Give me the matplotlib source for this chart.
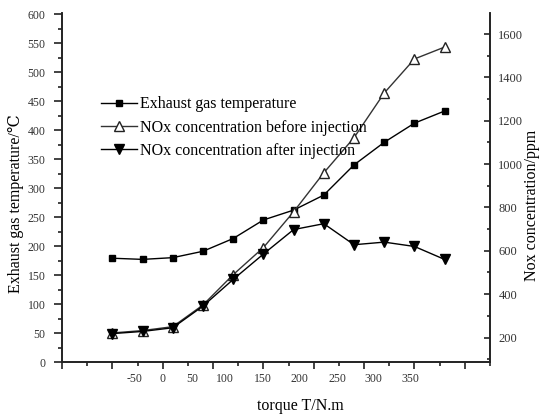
import numpy as np
import matplotlib.pyplot as plt
from matplotlib.ticker import MultipleLocator

plt.rcParams['font.family'] = ['Liberation Serif', 'DejaVu Serif']

# x positions of the measurement points (on the drawing scale of the original figure)
torque_pos = [-50, -20, 10, 40, 70, 100, 130, 160, 190, 220, 250, 280]
exhaust_temp = [179, 177, 180, 191, 213, 245, 262, 288, 340, 379, 412, 433]
nox_before = [221, 232, 250, 350, 490, 615, 780, 960, 1122, 1328, 1485, 1540]
nox_after = [218, 228, 245, 345, 468, 585, 698, 725, 628, 640, 620, 560]

# tick labels as printed under the axis, and where they sit
xtick_text = ['-50', '0', '50', '100', '150', '200', '250', '300', '350']
xtick_at = [-28, 0, 29, 62, 99, 136, 174, 209, 246]

fig = plt.figure(figsize=(5.4, 4.15), dpi=100)
ax = fig.add_axes([62/540, 1-362/415, 428/540, 349/415])
ax2 = ax.twinx()

l1, = ax.plot(torque_pos, exhaust_temp, color='black', lw=1, marker='s', ms=5,
              mfc='black', mec='black', label='Exhaust gas temperature')
l2, = ax2.plot(torque_pos, nox_before, color='#333333', lw=1, marker='^', ms=7,
               mfc='white', mec='#222222', label='NOx concentration before injection')
l3, = ax2.plot(torque_pos, nox_after, color='black', lw=1, marker='v', ms=7,
               mfc='black', mec='black', label='NOx concentration after injection')

ax.set_xlim(-100, 325)
ax.set_ylim(0, 602)
ax2.set_ylim(87, 1697)

ax.xaxis.set_major_locator(MultipleLocator(50))
ax.xaxis.set_minor_locator(MultipleLocator(25))
ax.set_xticklabels([])
ax.yaxis.set_major_locator(MultipleLocator(50))
ax.yaxis.set_minor_locator(MultipleLocator(25))
ax2.yaxis.set_minor_locator(MultipleLocator(100))
ax2.set_yticks(np.arange(200, 1601, 200))

ax.spines['top'].set_visible(False)
ax2.spines['top'].set_visible(False)
for a in (ax, ax2):
    for s in a.spines.values():
        s.set_linewidth(1.2)
        s.set_color('#222222')

ax.tick_params(axis='x', which='major', direction='out', length=5, width=1.2, color='#222222')
ax.tick_params(axis='x', which='minor', direction='out', length=3, width=1.2, color='#222222')
ax.tick_params(axis='y', which='major', direction='out', length=6, width=1.2,
               labelsize=8.5, labelcolor='#333333', color='#222222', pad=6)
ax.tick_params(axis='y', which='minor', direction='out', length=3, width=1.2, color='#222222')
ax2.tick_params(axis='y', which='major', direction='in', length=4, width=1.2,
                labelsize=9, labelcolor='#333333', color='#222222', pad=6)
ax2.tick_params(axis='y', which='minor', direction='in', length=2.5, width=1.2, color='#222222')

for t, xp in zip(xtick_text, xtick_at):
    ax.text(xp, -0.05, t, transform=ax.get_xaxis_transform(), ha='center', va='center',
            fontsize=8.5, color='#333333')

ax.set_ylabel('Exhaust gas temperature/\u2103', fontsize=11.5)
ax.yaxis.set_label_coords(-0.089, 0.455)
ax2.set_ylabel('Nox concentration/ppm', fontsize=11.5)
ax2.yaxis.set_label_coords(1.079, 0.45)
ax.set_xlabel('torque T/N.m', fontsize=11.5)
ax.xaxis.set_label_coords(0.556, -0.103)

fig.legend(handles=[l1, l2, l3], loc='upper left', bbox_to_anchor=(95/540, 1-90/415),
           frameon=False, fontsize=11.5, handlelength=2.2, handletextpad=0.2,
           labelspacing=0.45, borderaxespad=0)

fig.savefig('out.png', dpi=100)
